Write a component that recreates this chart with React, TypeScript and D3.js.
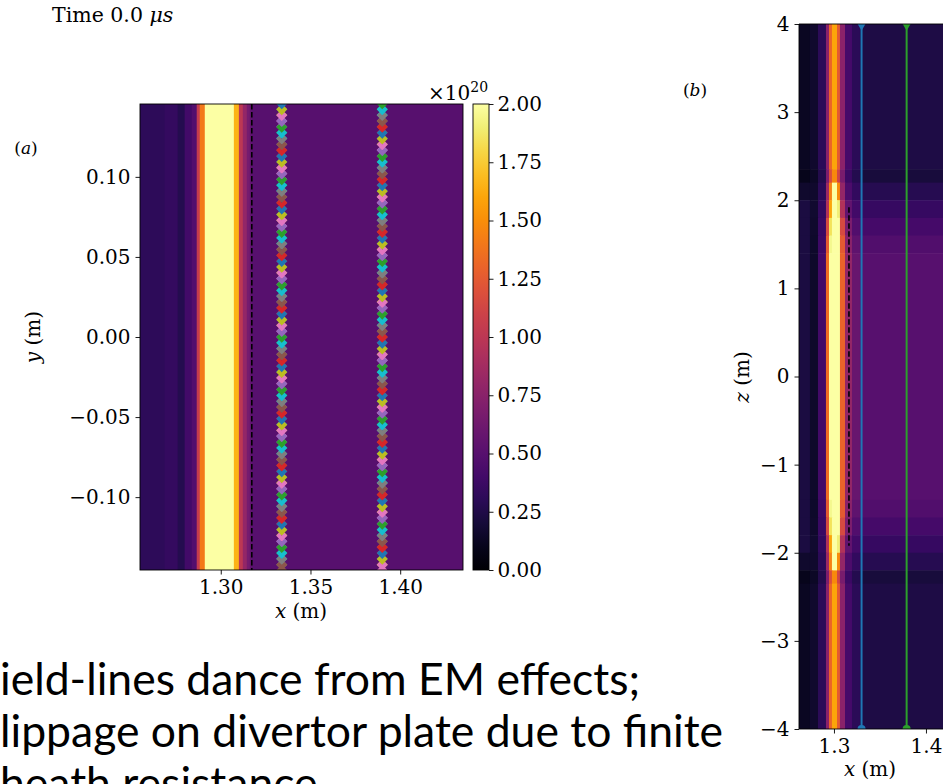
import React, { useEffect, useRef } from "react";
import * as d3 from "d3";

const W = 943;
const H = 784;
const SERIF = "DejaVu Serif, serif";
const FS = 20;

// ---------- panel (a): density across x on one poloidal plane (units of 1e20 m^-3)
const xEdgesA = [1.255, 1.2687, 1.276, 1.2799, 1.2838, 1.2866, 1.2883, 1.2911, 1.3073, 1.3101, 1.3123, 1.3145, 1.3162, 1.3173, 1.435];
const densityA = [0.31, 0.34, 0.27, 0.4, 0.48, 1.05, 1.4, 2.6, 1.65, 1.0, 0.8, 0.65, 0.55, 0.5];
const sepXA = 1.3173;
const xTicksA = [1.3, 1.35, 1.4];
const yTicksA = [-0.1, -0.05, 0, 0.05, 0.1];
const cbTicks = [0, 0.25, 0.5, 0.75, 1.0, 1.25, 1.5, 1.75, 2.0];

// field-line puncture points (two lines, traced through the plane)
const fieldLineXA = [1.334, 1.39];
const fieldLinePhase = [0, 4];
const punctureY = [
  0.144, 0.1404, 0.1367, 0.1331, 0.1294, 0.1258, 0.1221, 0.1185, 0.1148, 0.1112,
  0.1075, 0.1039, 0.1002, 0.0966, 0.093, 0.0893, 0.0857, 0.082, 0.0784, 0.0747,
  0.0711, 0.0674, 0.0638, 0.0601, 0.0565, 0.0528, 0.0492, 0.0456, 0.0419, 0.0383,
  0.0346, 0.031, 0.0273, 0.0237, 0.02, 0.0164, 0.0127, 0.0091, 0.0054, 0.0018,
  -0.0018, -0.0054, -0.0091, -0.0127, -0.0164, -0.02, -0.0237, -0.0273, -0.031, -0.0346,
  -0.0383, -0.0419, -0.0456, -0.0492, -0.0528, -0.0565, -0.0601, -0.0638, -0.0674, -0.0711,
  -0.0747, -0.0784, -0.082, -0.0857, -0.0893, -0.093, -0.0966, -0.1002, -0.1039, -0.1075,
  -0.1112, -0.1148, -0.1185, -0.1221, -0.1258, -0.1294, -0.1331, -0.1367, -0.1404, -0.144,
];
const markerColors = ["#1f77b4", "#bcbd22", "#e377c2", "#9467bd", "#2ca02c", "#17becf", "#7f7f7f", "#8c564b", "#d62728"];

// ---------- panel (b): density in the x-z plane
const xEdgesB = [1.262, 1.2739, 1.2826, 1.2913, 1.2946, 1.2978, 1.3033, 1.3065, 1.312, 1.3196, 1.3283, 1.44];
const profileOuter = [0.12, 0.16, 0.3, 0.75, 1.3, 1.6, 1.25, 0.75, 0.42, 0.3, 0.24];
const profilePlate = [0.1, 0.14, 0.26, 0.68, 1.18, 1.48, 1.12, 0.67, 0.37, 0.27, 0.21];
const profileTransA = [0.16, 0.16, 0.3, 0.85, 1.45, 2.2, 1.5, 0.8, 0.45, 0.33, 0.28];
const profileTransB = [0.22, 0.17, 0.33, 0.95, 1.6, 2.4, 1.9, 0.95, 0.55, 0.4, 0.35];
const profileTransC = [0.22, 0.16, 0.36, 1.15, 1.85, 2.6, 2.3, 1.15, 0.68, 0.48, 0.42];
const profileTransD = [0.22, 0.15, 0.38, 1.25, 1.95, 2.6, 2.5, 1.25, 0.75, 0.54, 0.47];
const profileInner = [0.22, 0.15, 0.4, 1.35, 2.0, 2.6, 2.6, 1.3, 0.8, 0.58, 0.5];
const zEdgesB = [4, 2.35, 2.2, 2.0, 1.8, 1.6, 1.4, -1.4, -1.6, -1.8, -2.0, -2.2, -2.35, -4];
const rowsB = [
  profileOuter, profilePlate, profileTransA, profileTransB, profileTransC, profileTransD, profileInner,
  profileTransD, profileTransC, profileTransB, profileTransA, profilePlate, profileOuter,
];
const sepXB = 1.3163;
const sepZB = [1.92, -1.92];
const fieldLineXB = [1.33, 1.379];
const fieldLineColorsB = ["#1f77b4", "#2ca02c"];
const zTicksB = [-4, -3, -2, -1, 0, 1, 2, 3, 4];
const xTicksB = [1.3, 1.4];

const slideLines = [
  "ield-lines dance from EM effects;",
  "lippage on divertor plate due to finite",
  "heath resistance",
];

const cmap = (v: number) => d3.interpolateInferno(Math.max(0, Math.min(1, v / 2)));

const styleAxis = (g: d3.Selection<SVGGElement, unknown, null, undefined>) => {
  g.select(".domain").remove();
  g.selectAll(".tick line").attr("stroke", "#000").attr("stroke-width", 0.9);
  g.selectAll(".tick text").attr("font-family", SERIF).attr("font-size", FS).attr("fill", "#000");
};

export default function App() {
  const axA_x = useRef<SVGGElement>(null);
  const axA_y = useRef<SVGGElement>(null);
  const axCb = useRef<SVGGElement>(null);
  const axB_x = useRef<SVGGElement>(null);
  const axB_z = useRef<SVGGElement>(null);

  // panel (a) geometry
  const xA = d3.scaleLinear().domain([1.255, 1.435]).range([140, 463]);
  const yA = d3.scaleLinear().domain([-0.1455, 0.1455]).range([570, 104]);
  const cb = d3.scaleLinear().domain([0, 2]).range([570, 104]);
  const cbX0 = 473;
  const cbX1 = 489;

  // panel (b) geometry
  const xB = d3.scaleLinear().domain([1.262, 1.44]).range([799, 799 + 0.178 * 920]);
  const zB = d3.scaleLinear().domain([-4, 4]).range([729, 24]);

  useEffect(() => {
    const fmt2 = d3.format(".2f");
    d3.select(axA_x.current!)
      .call(d3.axisBottom(xA).tickValues(xTicksA).tickFormat((d) => fmt2(d as number)).tickSizeOuter(0).tickSize(4.5).tickPadding(5))
      .call(styleAxis);
    d3.select(axA_y.current!)
      .call(d3.axisLeft(yA).tickValues(yTicksA).tickFormat((d) => fmt2(d as number)).tickSizeOuter(0).tickSize(4.5).tickPadding(5))
      .call(styleAxis);
    d3.select(axCb.current!)
      .call(d3.axisRight(cb).tickValues(cbTicks).tickFormat((d) => fmt2(d as number)).tickSizeOuter(0).tickSize(4.5).tickPadding(4))
      .call(styleAxis);
    d3.select(axB_x.current!)
      .call(d3.axisBottom(xB).tickValues(xTicksB).tickFormat((d) => d3.format(".1f")(d as number)).tickSizeOuter(0).tickSize(4.5).tickPadding(5))
      .call(styleAxis);
    d3.select(axB_z.current!)
      .call(d3.axisLeft(zB).tickValues(zTicksB).tickFormat((d) => d3.format("d")(d as number)).tickSizeOuter(0).tickSize(4.5).tickPadding(5))
      .call(styleAxis);
  }, []);

  const crossPath = d3.symbol().type(d3.symbolCross).size(78)()!;
  const triDown = d3.symbol().type(d3.symbolTriangle).size(30)()!;

  const gradStops = d3.range(0, 1.0001, 0.05);

  return (
    <svg width={W} height={H} style={{ position: "absolute", left: 0, top: 0, background: "#fff" }}>
      <defs>
        <linearGradient id="inferno-cb" x1="0" y1="1" x2="0" y2="0">
          {gradStops.map((t) => (
            <stop key={t} offset={t} stopColor={d3.interpolateInferno(t)} />
          ))}
        </linearGradient>
        <clipPath id="clipA">
          <rect x={140} y={104} width={323} height={466} />
        </clipPath>
        <clipPath id="clipB">
          <rect x={799} y={24} width={W - 799} height={705} />
        </clipPath>
      </defs>

      {/* header */}
      <text x={52} y={22} fontFamily={SERIF} fontSize={20.5}>
        Time 0.0 <tspan fontStyle="italic">μs</tspan>
      </text>
      <text x={26} y={154} fontFamily={SERIF} fontSize={17} textAnchor="middle">
        (<tspan fontStyle="italic">a</tspan>)
      </text>
      <text x={695} y={96} fontFamily={SERIF} fontSize={17} textAnchor="middle">
        (<tspan fontStyle="italic">b</tspan>)
      </text>

      {/* ---------- panel (a) ---------- */}
      <g clipPath="url(#clipA)">
        {densityA.map((v, i) => (
          <rect
            key={i}
            x={xA(xEdgesA[i])}
            y={104}
            width={xA(xEdgesA[i + 1]) - xA(xEdgesA[i]) + 0.5}
            height={466}
            fill={cmap(v)}
          />
        ))}
        <line x1={xA(sepXA)} x2={xA(sepXA)} y1={104} y2={570} stroke="#000" strokeWidth={1.6} strokeDasharray="5.5,2.5" />
        {fieldLineXA.map((fx, c) =>
          punctureY.map((py, i) => (
            <path
              key={`${c}-${i}`}
              d={crossPath}
              transform={`translate(${xA(fx)},${yA(py)}) rotate(45)`}
              fill={markerColors[(fieldLinePhase[c] + i) % markerColors.length]}
            />
          ))
        )}
      </g>
      <rect x={140} y={104} width={323} height={466} fill="none" stroke="#000" strokeWidth={0.9} />
      <g ref={axA_x} transform="translate(0,570)" />
      <g ref={axA_y} transform="translate(140,0)" />
      <text x={301} y={618} fontFamily={SERIF} fontSize={FS} textAnchor="middle">
        <tspan fontStyle="italic">x</tspan> (m)
      </text>
      <text transform="translate(40,337) rotate(-90)" fontFamily={SERIF} fontSize={FS} textAnchor="middle">
        <tspan fontStyle="italic">y</tspan> (m)
      </text>

      {/* colorbar */}
      <rect x={cbX0} y={104} width={cbX1 - cbX0} height={466} fill="url(#inferno-cb)" />
      <rect x={cbX0} y={104} width={cbX1 - cbX0} height={466} fill="none" stroke="#000" strokeWidth={0.9} />
      <g ref={axCb} transform={`translate(${cbX1},0)`} />
      <text x={428} y={100} fontFamily={SERIF} fontSize={FS}>
        ×10<tspan dy={-8} fontSize={14}>20</tspan>
      </text>

      {/* ---------- panel (b) ---------- */}
      <g clipPath="url(#clipB)">
        {rowsB.map((row, r) =>
          row.map((v, i) => (
            <rect
              key={`${r}-${i}`}
              x={xB(xEdgesB[i])}
              y={zB(zEdgesB[r])}
              width={xB(xEdgesB[i + 1]) - xB(xEdgesB[i]) + 0.5}
              height={zB(zEdgesB[r + 1]) - zB(zEdgesB[r]) + 0.5}
              fill={cmap(v)}
            />
          ))
        )}
        <line x1={xB(sepXB)} x2={xB(sepXB)} y1={zB(sepZB[0])} y2={zB(sepZB[1])} stroke="#000" strokeWidth={1.6} strokeDasharray="5.5,2.5" />
        {fieldLineXB.map((fx, i) => (
          <g key={i}>
            <line x1={xB(fx)} x2={xB(fx)} y1={zB(4)} y2={zB(-4)} stroke={fieldLineColorsB[i]} strokeWidth={2} />
            <path d={triDown} transform={`translate(${xB(fx)},${zB(4) + 2}) rotate(180)`} fill={fieldLineColorsB[i]} />
            <circle cx={xB(fx)} cy={zB(-4)} r={4} fill={fieldLineColorsB[i]} />
          </g>
        ))}
      </g>
      <line x1={799} x2={W} y1={24} y2={24} stroke="#000" strokeWidth={0.9} />
      <line x1={799} x2={W} y1={729} y2={729} stroke="#000" strokeWidth={0.9} />
      <line x1={799} x2={799} y1={24} y2={729} stroke="#000" strokeWidth={0.9} />
      <g ref={axB_x} transform="translate(0,729)" />
      <g ref={axB_z} transform="translate(799,0)" />
      <text x={870} y={776} fontFamily={SERIF} fontSize={FS} textAnchor="middle">
        <tspan fontStyle="italic">x</tspan> (m)
      </text>
      <text transform="translate(749,377) rotate(-90)" fontFamily={SERIF} fontSize={FS} textAnchor="middle">
        <tspan fontStyle="italic">z</tspan> (m)
      </text>

      {/* slide caption */}
      {slideLines.map((s, i) => (
        <text key={i} x={0} y={695 + i * 52} fontFamily="Lato, sans-serif" fontSize={44.5} fill="#000">
          {s}
        </text>
      ))}
    </svg>
  );
}
